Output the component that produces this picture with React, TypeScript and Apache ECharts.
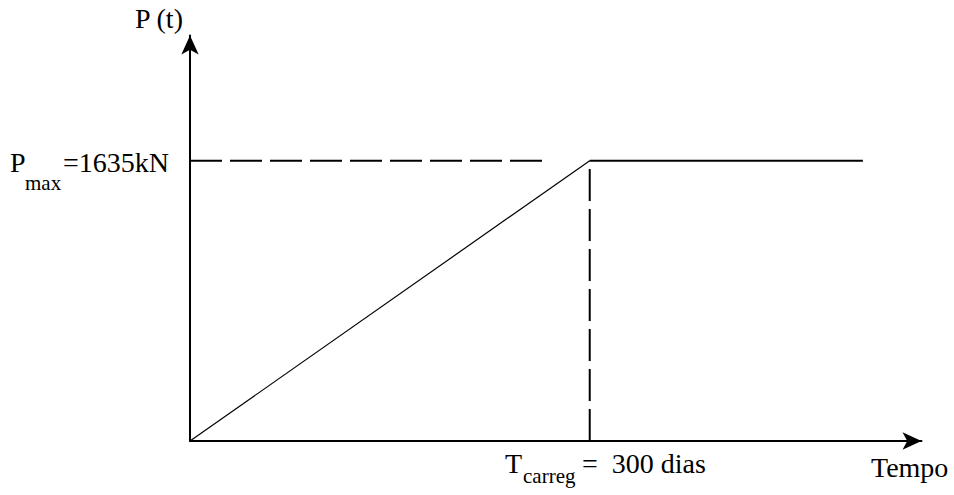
import React, { useEffect, useRef } from "react";
import * as echarts from "echarts";

// Load history (days, kN)
const loadX = [0, 300, 505];
const loadY = [0, 1635, 1635];
// Dashed guide lines
const guideHX = [0, 265];
const guideHY = [1635, 1635];
const guideVX = [300, 300];
const guideVY = [0, 1635];
// Axis extents
const xMax = 549;
const yMax = 2365;

export default function App() {
  const ref = useRef<HTMLDivElement>(null);
  useEffect(() => {
    if (!ref.current) return;
    const chart = echarts.init(ref.current, undefined, { renderer: "svg" });
    const axisCommon = {
      type: "value" as const,
      min: 0,
      axisLine: {
        show: true,
        onZero: false,
        symbol: ["none", "arrow"],
        symbolSize: [13, 19],
        lineStyle: { color: "#000", width: 2 },
      },
      axisTick: { show: false },
      axisLabel: { show: false },
      splitLine: { show: false },
    };
    const txt = (x: number, y: number, text: string, size: number) => ({
      type: "text",
      x,
      y,
      silent: true,
      style: {
        text,
        fill: "#000",
        font: `${size}px 'Liberation Serif', 'DejaVu Serif', serif`,
        verticalAlign: "middle",
        align: "left",
      },
    });
    chart.setOption({
      animation: false,
      backgroundColor: "#fff",
      grid: { left: 190, right: 32.5, top: 35.5, bottom: 54 },
      xAxis: { ...axisCommon, max: xMax },
      yAxis: { ...axisCommon, max: yMax },
      series: [
        {
          type: "line",
          data: [[loadX[0], loadY[0]], [loadX[1], loadY[1]]],
          symbol: "none",
          silent: true,
          lineStyle: { color: "#000", width: 1.2 },
        },
        {
          type: "line",
          data: [[loadX[1], loadY[1]], [loadX[2], loadY[2]]],
          symbol: "none",
          silent: true,
          lineStyle: { color: "#000", width: 2 },
        },
        {
          type: "line",
          data: guideHX.map((x, i) => [x, guideHY[i]]),
          symbol: "none",
          silent: true,
          lineStyle: { color: "#000", width: 2, type: [32, 8] },
        },
        {
          type: "line",
          data: guideVX.map((x, i) => [x, guideVY[i]]),
          symbol: "none",
          silent: true,
          lineStyle: { color: "#000", width: 2, type: [32, 8] },
        },
      ],
      graphic: [
        txt(135, 18, "P (t)", 28),
        txt(10, 162, "P", 28),
        txt(25, 183, "max", 21),
        txt(63, 162, "=1635kN", 28),
        txt(505, 463, "T", 28),
        txt(523, 476, "carreg", 21),
        txt(582, 463, "=  300 dias", 28),
        txt(871, 467, "Tempo", 28),
      ],
    });
    return () => chart.dispose();
  }, []);
  return (
    <div
      ref={ref}
      style={{ position: "fixed", left: 0, top: 0, width: 954, height: 495 }}
    />
  );
}
